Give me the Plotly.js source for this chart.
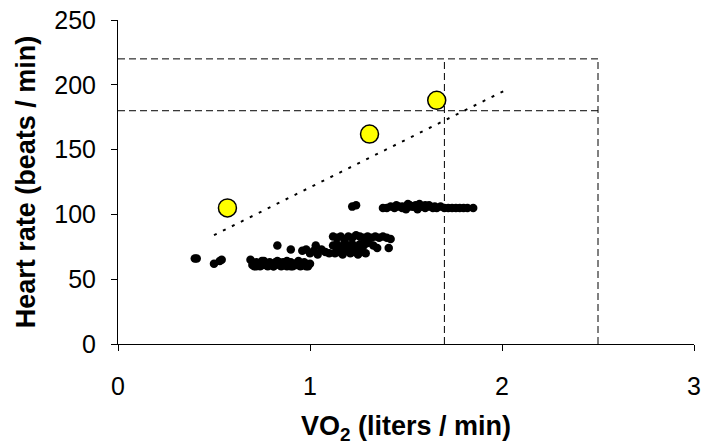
<!DOCTYPE html>
<html>
<head>
<meta charset="utf-8">
<script src="https://cdn.plot.ly/plotly-3.0.1.min.js"></script>
<style>html,body{margin:0;padding:0;background:#fff;}#chart{width:702px;height:445px;}</style>
</head>
<body>
<div id="chart"></div>
<script>
// Measured black data (VO2 l/min, heart rate bpm)
const vo2Measured = [
  0.40,0.41,0.50,0.53,0.54,
  0.69,0.70,0.71,0.72,0.73,0.74,0.75,0.76,0.77,0.78,0.79,0.80,0.81,0.82,0.83,0.84,0.85,0.86,0.87,0.88,0.89,0.90,0.91,0.92,0.93,0.94,0.95,0.96,0.97,0.98,0.99,1.00,
  0.72,0.75,0.78,0.81,0.84,0.87,0.90,0.93,0.96,0.99,0.76,0.82,0.88,0.94,
  0.83,0.90,0.96,1.03,
  0.98,1.00,1.02,1.04,1.06,1.08,1.10,
  1.12,1.14,1.16,1.18,1.20,1.22,1.24,1.26,1.28,1.30,1.32,1.34,1.36,1.38,1.40,1.42,
  1.12,1.14,1.16,1.18,1.20,1.22,1.24,1.26,1.28,1.30,1.33,
  1.13,1.15,1.17,1.19,1.21,1.23,1.25,1.27,1.29,
  1.14,1.17,1.20,1.23,1.26,
  1.35,1.41,
  1.22,1.24,
  1.38,1.40,1.42,1.44,1.46,1.48,1.50,1.52,1.54,1.56,1.58,1.60,1.62,1.64,1.66,1.68,1.70,1.72,1.74,1.76,1.78,1.80,1.82,1.85,
  1.45,1.48,1.51,1.53,1.55,1.57,1.59,1.62,1.65,1.50,1.56,1.60
];
const hrMeasured = [
  66,66,62,64,65,
  65,61,60,63,62,60,64,61,62,60,63,61,60,62,64,61,60,63,62,60,61,63,60,62,61,64,60,62,63,60,61,62,
  60,61,62,60,63,61,60,62,61,60,64,63,64,63,
  76,73,72,76,
  73,70,72,69,73,71,70,
  83,82,83,81,83,82,84,83,82,83,82,83,82,83,82,81,
  76,77,75,78,76,77,75,77,76,78,76,
  70,71,69,72,70,71,69,71,70,
  73,74,72,73,74,
  74,74,
  106,107,
  105,105,106,105,106,105,106,107,106,105,106,107,106,105,105,106,105,105,105,105,105,105,105,105,
  107,106,108,106,107,108,106,107,106,104,104,105
];

// Estimated values (yellow)
const vo2Estimated = [0.57, 1.31, 1.66];
const hrEstimated = [105, 162, 188];

// Dotted trend line end points
const trendVO2 = [0.50, 2.02];
const trendHR = [84, 196];

// Dashed reference levels
const hrLevels = [180, 220];
const vo2Levels = [1.7, 2.5];

const dashLine = {color: '#000', width: 1, dash: '7px,4px'};
const refTraces = [];
hrLevels.forEach(h => refTraces.push({
  x: [0, vo2Levels[vo2Levels.length - 1]], y: [h, h], mode: 'lines', type: 'scatter',
  line: dashLine, hoverinfo: 'skip', showlegend: false, cliponaxis: false
}));
vo2Levels.forEach(v => refTraces.push({
  x: [v, v], y: [0, hrLevels[hrLevels.length - 1]], mode: 'lines', type: 'scatter',
  line: dashLine, hoverinfo: 'skip', showlegend: false, cliponaxis: false
}));

const data = [
  ...refTraces,
  {x: trendVO2, y: trendHR, mode: 'lines', type: 'scatter',
   line: {color: '#000', width: 2, dash: '3px,7px'}, showlegend: false},
  {x: vo2Measured, y: hrMeasured, mode: 'markers', type: 'scatter',
   marker: {color: '#000', size: 8.5, line: {width: 0}}, showlegend: false},
  {x: vo2Estimated, y: hrEstimated, mode: 'markers', type: 'scatter',
   marker: {color: '#ffff00', size: 18, line: {color: '#000', width: 1.5}}, showlegend: false}
];

const fam = 'Arial, "Liberation Sans", sans-serif';
const layout = {
  width: 702, height: 445,
  margin: {l: 118, r: 8, t: 20, b: 101},
  paper_bgcolor: '#fff', plot_bgcolor: '#fff',
  font: {family: fam, color: '#000'},
  xaxis: {
    range: [0, 3], tickvals: [0, 1, 2, 3], ticktext: ['0', '1', '2', '3'],
    showgrid: false, zeroline: false, showline: true, linecolor: '#000', linewidth: 1,
    ticks: 'outside', ticklen: 6, tickcolor: '#000', ticklabelstandoff: 14,
    tickfont: {size: 25, family: fam, color: '#000'},
    automargin: false,
    title: {text: 'VO<sub>2</sub> (liters / min)', font: {size: 27, family: fam, weight: 'bold', color: '#000'}, standoff: 18}
  },
  yaxis: {
    range: [0, 250], tickvals: [0, 50, 100, 150, 200, 250],
    showgrid: false, zeroline: false, showline: true, linecolor: '#000', linewidth: 1,
    ticks: 'outside', ticklen: 6, tickcolor: '#000', ticklabelstandoff: 10,
    tickfont: {size: 25, family: fam, color: '#000'},
    automargin: false,
    title: {text: 'Heart rate (beats / min)', font: {size: 27, family: fam, weight: 'bold', color: '#000'}, standoff: 10}
  }
};
Plotly.newPlot('chart', data, layout, {displayModeBar: false, staticPlot: true});
</script>
</body>
</html>
